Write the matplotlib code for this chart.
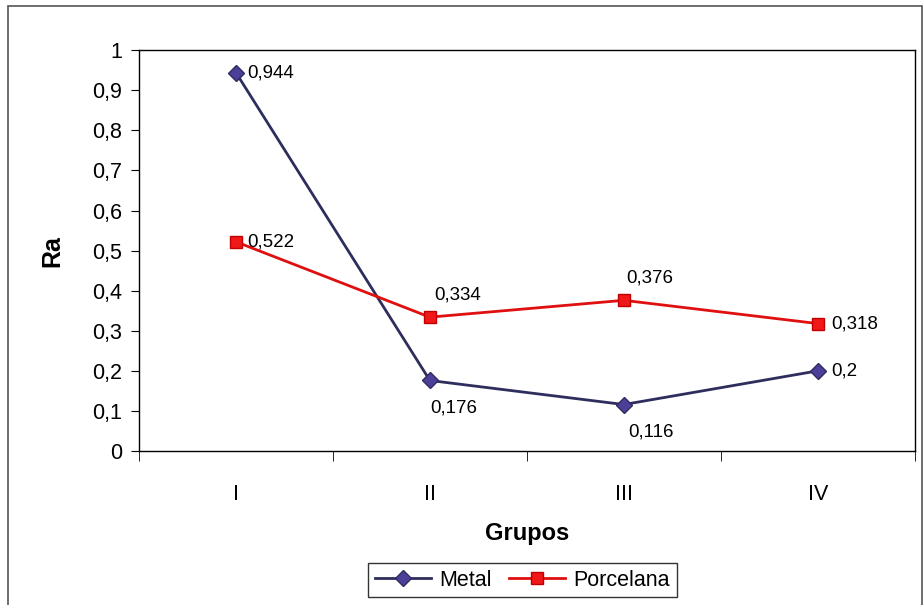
import matplotlib.pyplot as plt
from matplotlib.patches import Rectangle
from matplotlib.ticker import FixedLocator, FuncFormatter

plt.rcParams["font.family"] = ["Liberation Sans", "DejaVu Sans"]

# data
grupos = ["I", "II", "III", "IV"]
metal = [0.944, 0.176, 0.116, 0.2]
porcelana = [0.522, 0.334, 0.376, 0.318]

# label offsets (points) for each value
metal_off = [(8, 0), (0, -20), (3, -20), (10, 0)]
porcelana_off = [(8, 0), (3, 16), (2, 16), (10, 0)]

fig = plt.figure(figsize=(9.23, 6.05), dpi=100)
ax = fig.add_axes([0.1506, 0.2545, 0.8404, 0.6625])

x = list(range(len(grupos)))
ax.plot(x, metal, color="#2e2e5e", lw=2, marker="D", ms=8,
        markerfacecolor="#4b3f9a", markeredgecolor="#2e2e5e", label="Metal")
ax.plot(x, porcelana, color="#e01010", lw=2, marker="s", ms=8,
        markerfacecolor="#f01818", markeredgecolor="#c00000", label="Porcelana")

def fmt(v):
    return ("%g" % v).replace(".", ",")

for xi, v, off in zip(x, metal, metal_off):
    ax.annotate(fmt(v), (xi, v), xytext=off, textcoords="offset points",
                fontsize=13.5, va="center", ha="left")
for xi, v, off in zip(x, porcelana, porcelana_off):
    ax.annotate(fmt(v), (xi, v), xytext=off, textcoords="offset points",
                fontsize=13.5, va="center", ha="left")

ax.set_xlim(-0.5, 3.5)
ax.set_ylim(0, 1)
ax.set_yticks([i / 10 for i in range(11)])
ax.yaxis.set_major_formatter(FuncFormatter(lambda v, p: fmt(round(v, 1))))
ax.set_xticks(x)
ax.set_xticklabels(grupos)
ax.xaxis.set_minor_locator(FixedLocator([-0.5, 0.5, 1.5, 2.5, 3.5]))
ax.tick_params(axis="x", which="major", length=0, pad=24, labelsize=15.5)
ax.tick_params(axis="x", which="minor", length=7, direction="out")
ax.tick_params(axis="y", length=6, direction="out", labelsize=15.5, pad=6)

ax.set_ylabel("Ra", fontsize=18, fontweight="bold", labelpad=20)
ax.set_xlabel("Grupos", fontsize=17, fontweight="bold", labelpad=12)

for s in ax.spines.values():
    s.set_color("black")
    s.set_linewidth(1)

fig.legend(loc="lower center", bbox_to_anchor=(0.566, -0.005), ncol=2,
           fontsize=15.5, frameon=True, fancybox=False, edgecolor="black",
           handlelength=2.6, borderpad=0.3, columnspacing=0.8, handletextpad=0.4)

fig.patches.append(Rectangle((0.009, -0.01), 0.99, 1.0, transform=fig.transFigure,
                             fill=False, edgecolor="#555555", lw=1.2))

fig.savefig("out.png", dpi=100)
